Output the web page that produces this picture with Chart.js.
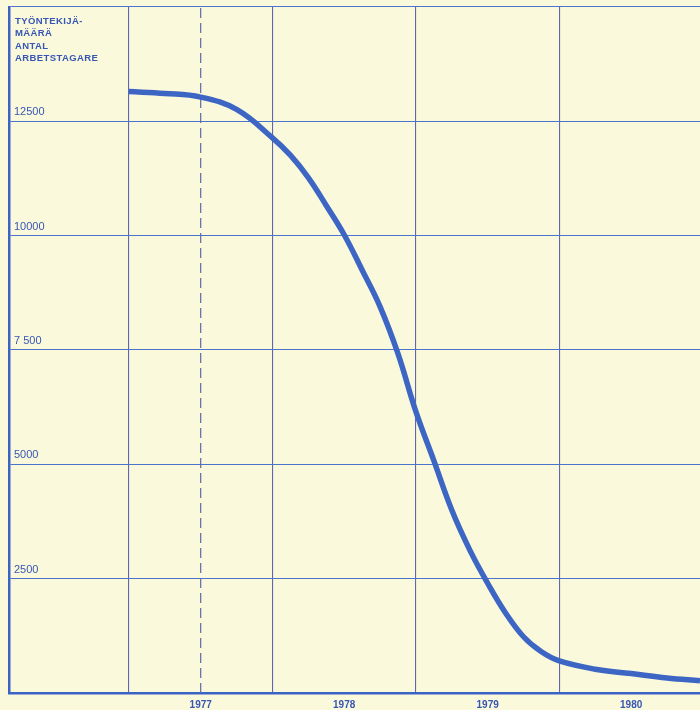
<!DOCTYPE html>
<html>
<head>
<meta charset="utf-8">
<script src="https://cdn.jsdelivr.net/npm/chart.js@4.4.1/dist/chart.umd.min.js"></script>
<style>
  html, body { margin: 0; padding: 0; background: #fbf9dc; overflow: hidden; }
  #wrap { position: relative; width: 700px; height: 710px; }
</style>
</head>
<body>
<div id="wrap"><canvas id="c" width="700" height="710"></canvas></div>
<script>
// ---- data ----
const years   = [1977.0, 1977.25, 1977.5, 1977.75, 1978.0, 1978.125, 1978.25, 1978.375, 1978.5, 1978.625, 1978.75, 1978.875, 1979.0, 1979.125, 1979.25, 1979.375, 1979.5, 1979.625, 1979.75, 1979.875, 1980.0, 1980.25, 1980.5, 1980.75, 1980.98];
const workers = [13150, 13110, 13030, 12760, 12140, 11760, 11270, 10660, 10020, 9250, 8450, 7420, 6150, 5080, 4000, 3130, 2400, 1750, 1230, 900, 700, 520, 425, 330, 270];
const yearTicks = [1977, 1978, 1979, 1980];
const yearLabels = ["1977", "1978", "1979", "1980"];
const yTickValues = [2500, 5000, 7500, 10000, 12500];
const yTickLabels = ["2500", "5000", "7 500", "10000", "12500"];
const yTitleLines = ["TYÖNTEKIJÄ-", "MÄÄRÄ", "ANTAL", "ARBETSTAGARE"];
const markerYear = 1977.5;

const BG = '#fbf9dc';
const INK = '#3656b4';
const GRID_H = '#4d74cc';
const GRID_V = '#5f68ac';
const AXIS = '#3c62c4';
const CURVE = '#3d66c4';

const bgPlugin = {
  id: 'bg',
  beforeDraw(chart) {
    const ctx = chart.ctx;
    ctx.save();
    ctx.fillStyle = BG;
    ctx.fillRect(0, 0, chart.width, chart.height);
    ctx.restore();
  },
  afterDraw(chart) {
    const ctx = chart.ctx;
    ctx.save();
    ctx.fillStyle = INK;
    ctx.font = 'bold 9.5px "Liberation Sans", Arial, sans-serif';
    try { ctx.letterSpacing = '0.4px'; } catch (e) {}
    ctx.textBaseline = 'alphabetic';
    const left = chart.chartArea.left + 6;
    yTitleLines.forEach((t, i) => ctx.fillText(t, left, 24 + i * 12.3));
    ctx.restore();
  }
};

new Chart(document.getElementById('c'), {
  type: 'line',
  data: {
    datasets: [
      {
        data: years.map((x, i) => ({ x: x, y: workers[i] })),
        borderColor: CURVE,
        borderWidth: 5.5,
        pointRadius: 0,
        tension: 0.4,
        borderCapStyle: 'butt',
        fill: false
      },
      {
        data: [{ x: markerYear, y: 0 }, { x: markerYear, y: 15000 }],
        borderColor: GRID_V,
        borderWidth: 1.2,
        borderDash: [10, 5],
        pointRadius: 0,
        fill: false
      }
    ]
  },
  options: {
    responsive: false,
    animation: false,
    events: [],
    layout: { padding: { left: 9, top: 7, right: 0, bottom: 0 } },
    plugins: { legend: { display: false }, tooltip: { enabled: false }, title: { display: false } },
    scales: {
      x: {
        type: 'linear',
        min: 1976.164,
        max: 1980.98,
        afterBuildTicks(scale) { scale.ticks = yearTicks.map(v => ({ value: v })); },
        afterFit(scale) { scale.height = 17; scale.paddingLeft = 0; scale.paddingRight = 0; },
        grid: { color: GRID_V, lineWidth: 1.1, drawTicks: false },
        border: { display: true, color: AXIS, width: 2.5 },
        ticks: {
          padding: 6,
          labelOffset: 71.75,
          maxRotation: 0,
          autoSkip: false,
          color: INK,
          font: { family: '"Liberation Sans", Arial, sans-serif', size: 10, weight: 'bold' },
          callback(v) { const i = yearTicks.indexOf(v); return i >= 0 ? yearLabels[i] : ''; }
        }
      },
      y: {
        type: 'linear',
        min: 0,
        max: 15000,
        afterBuildTicks(scale) {
          const t = [];
          for (let v = 0; v <= 15000; v += 2500) t.push({ value: v });
          scale.ticks = t;
        },
        afterFit(scale) { scale.width = 0; scale.paddingTop = 0; scale.paddingBottom = 0; },
        grid: { color: GRID_H, lineWidth: 1.1, drawTicks: false },
        border: { display: true, color: AXIS, width: 2.5 },
        ticks: {
          mirror: true,
          padding: 5,
          labelOffset: -9,
          autoSkip: false,
          color: INK,
          font: { family: '"Liberation Sans", Arial, sans-serif', size: 11 },
          callback(v) { const i = yTickValues.indexOf(v); return i >= 0 ? yTickLabels[i] : ''; }
        }
      }
    }
  },
  plugins: [bgPlugin]
});
</script>
</body>
</html>
